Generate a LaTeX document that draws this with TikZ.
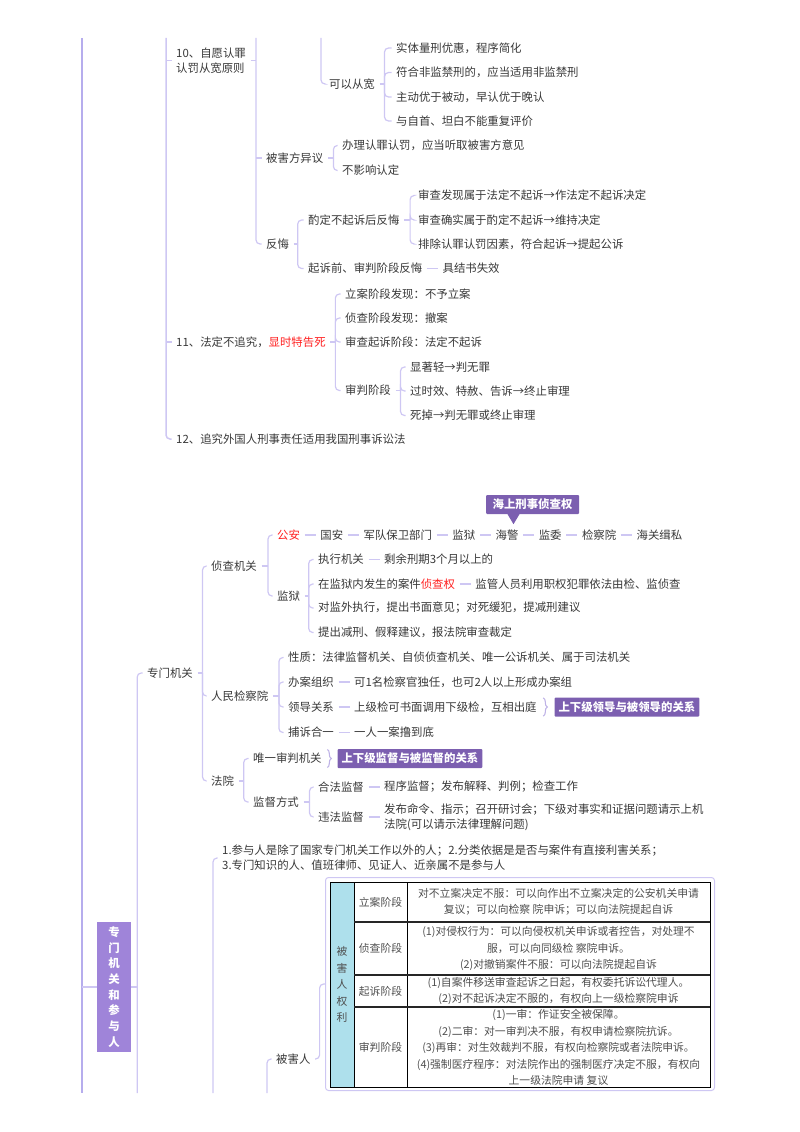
\documentclass[tikz,border=0pt]{standalone}
\usepackage{fontspec}
\setmainfont{Noto Sans CJK SC}
\usetikzlibrary{positioning,decorations.pathreplacing}

\definecolor{ink}{HTML}{383838}
\definecolor{lnk}{HTML}{CEC7F3}
\definecolor{trk}{HTML}{B6ADED}
\definecolor{tag}{HTML}{7C5FB0}
\definecolor{rootc}{HTML}{9F84D9}
\definecolor{hot}{HTML}{FF1F1F}
\definecolor{cell}{HTML}{AEE0EC}
\definecolor{cellink}{HTML}{4E4E4E}

\tikzset{
  txt/.style={anchor=west, inner xsep=4.5pt, inner ysep=1.5pt, text=ink,
    font=\fontsize{11.4}{15}\selectfont, align=left},
  leaf/.style={txt, xshift=-4.5pt},
  br/.style={draw=lnk, line width=1.2pt, rounded corners=4pt},
  tagbox/.style={fill=tag, text=white, font=\fontsize{11.4}{14}\selectfont\bfseries,
    inner xsep=4pt, inner ysep=0pt, minimum height=19pt, rounded corners=1pt},
  tbtxt/.style={text=cellink, font=\fontsize{10.8}{16.4}\selectfont, align=center, inner sep=0pt},
  sumbr/.style={draw=lnk!80!tag, line width=1.1pt, decorate, decoration={brace, amplitude=4pt}},
}

\begin{document}
\begin{tikzpicture}[x=1pt, y=-1pt]
\useasboundingbox (0,0) rectangle (800,1132);

% trunk
\coordinate (trkTop) at (82,38);
\coordinate (trkBot) at (82,1093);
\draw[trk, line width=2.4pt] (trkTop) -- (trkBot);

% ---------- 10 / 11 / 12
\node (n10) [leaf] at (176,60.5) {10、自愿认罪\\认罚从宽原则};
\node (kyck) [leaf] at (329,84) {可以从宽};
\node (k1) [leaf] at (396,48) {实体量刑优惠，程序简化};
\node (k2) [leaf] at (396,72.5) {符合非监禁刑的，应当适用非监禁刑};
\node (k3) [leaf] at (396,97) {主动优于被动，早认优于晚认};
\node (k4) [leaf] at (396,121) {与自首、坦白不能重复评价};
\node (bhf) [leaf] at (266,158) {被害方异议};
\node (b1) [leaf] at (342,145.5) {办理认罪认罚，应当听取被害方意见};
\node (b2) [leaf] at (342,170.5) {不影响认定};
\node (fh) [leaf] at (266,244) {反悔};
\node (zd) [leaf] at (308,220) {酌定不起诉后反悔};
\node (z1) [leaf] at (418,195.5) {审查发现属于法定不起诉→作法定不起诉决定};
\node (z2) [leaf] at (418,220) {审查确实属于酌定不起诉→维持决定};
\node (z3) [leaf] at (418,244) {排除认罪认罚因素，符合起诉→提起公诉};
\node (qs) [leaf] at (308,268.5) {起诉前、审判阶段反悔};
\node (jjs) [txt, right=11pt of qs] {具结书失效};
\node (n11) [leaf] at (176,342) {11、法定不追究，\textcolor{hot}{显时特告死}};
\node (s1) [leaf] at (345,294) {立案阶段发现：不予立案};
\node (s2) [leaf] at (345,318) {侦查阶段发现：撤案};
\node (s3) [leaf] at (345,342) {审查起诉阶段：法定不起诉};
\node (s4) [leaf] at (345,390.5) {审判阶段};
\node (t1) [leaf] at (410,367) {显著轻→判无罪};
\node (t2) [leaf] at (410,391) {过时效、特赦、告诉→终止审理};
\node (t3) [leaf] at (410,415.5) {死掉→判无罪或终止审理};
\node (n12) [leaf] at (176,439) {12、追究外国人刑事责任适用我国刑事诉讼法};

\coordinate (topA) at (166,38);
\coordinate (topB) at (256,38);
\coordinate (topC) at (321,38);
\coordinate (kyJ) at ([xshift=5pt]kyck.east);
\coordinate (bhfJ) at ([xshift=5.5pt]bhf.east);
\coordinate (fhJ) at ([xshift=4pt]fh.east);
\coordinate (zdJ) at ([xshift=6pt]zd.east);
\coordinate (n11J) at ([xshift=5pt]n11.east);
\coordinate (s4J) at ([xshift=5pt]s4.east);

\draw[br, line width=1.5pt] (topA) |- (n12.west);
\draw[br] (n10.west -| topA) -- (n10.west);
\draw[br] (n11.west -| topA) -- (n11.west);
\draw[br] (n10.east) -- (n10.east -| topB);
\draw[br] (topB) |- (fh.west);
\draw[br] (bhf.west -| topB) -- (bhf.west);
\draw[br] (topC) |- (kyck.west);

\draw[br] (kyck.east) -- (kyJ);
\draw[br] (kyJ) |- (k1.west);
\draw[br] (kyJ) |- (k2.west);
\draw[br] (kyJ) |- (k3.west);
\draw[br] (kyJ) |- (k4.west);
\draw[br] (bhf.east) -- (bhfJ);
\draw[br] (bhfJ) |- (b1.west);
\draw[br] (bhfJ) |- (b2.west);
\draw[br] (fh.east) -- (fhJ);
\draw[br] (fhJ) |- (zd.west);
\draw[br] (fhJ) |- (qs.west);
\draw[br] (zd.east) -- (zdJ);
\draw[br] (zdJ) |- (z1.west);
\draw[br] (zdJ) |- (z2.west);
\draw[br] (zdJ) |- (z3.west);
\draw[br] (qs.east) -- (jjs.west);
\draw[br] (n11.east) -- (n11J);
\draw[br] (n11J) |- (s1.west);
\draw[br] (n11J) |- (s2.west);
\draw[br] (n11J) |- (s3.west);
\draw[br] (n11J) |- (s4.west);
\draw[br] (s4.east) -- (s4J);
\draw[br] (s4J) |- (t1.west);
\draw[br] (s4J) |- (t2.west);
\draw[br] (s4J) |- (t3.west);

% ---------- 专门机关和参与人
\node (root) [fill=rootc, text=white, font=\fontsize{11.4}{15.7}\selectfont\bfseries,
  align=center, minimum width=34pt, minimum height=130pt, inner sep=0pt] at (114,987)
  {专\\门\\机\\关\\和\\参\\与\\人};
\node (zmjg) [leaf] at (147,673) {专门机关};
\node (zcjg) [leaf] at (211,566) {侦查机关};
\node (ga) [leaf, text=hot] at (277,535) {公安};
\node (ca1) [txt, right=11pt of ga] {国安};
\node (ca2) [txt, right=11pt of ca1] {军队保卫部门};
\node (ca3) [txt, right=11pt of ca2] {监狱};
\node (ca4) [txt, right=11pt of ca3] {海警};
\node (ca5) [txt, right=11pt of ca4] {监委};
\node (ca6) [txt, right=11pt of ca5] {检察院};
\node (ca7) [txt, right=11pt of ca6] {海关缉私};
\node (hs) [tagbox, minimum width=93pt] at (532.5,504.5) {海上刑事侦查权};
\fill[tag] ([xshift=-25pt]hs.south) -- ([xshift=-19pt,yshift=-10pt]hs.south)
  -- ([xshift=-13pt]hs.south) -- cycle;
\node (jy) [leaf] at (277,596) {监狱};
\node (j1) [leaf] at (318,559.5) {执行机关};
\node (j1b) [txt, right=11pt of j1] {剩余刑期3个月以上的};
\node (j2) [leaf] at (318,584) {在监狱内发生的案件\textcolor{hot}{侦查权}};
\node (j2b) [txt, right=11pt of j2] {监管人员利用职权犯罪依法由检、监侦查};
\node (j3) [leaf] at (318,608) {对监外执行，提出书面意见；对死缓犯，提减刑建议};
\node (j4) [leaf] at (318,632.5) {提出减刑、假释建议，报法院审查裁定};
\node (rmjcy) [leaf] at (211,696) {人民检察院};
\node (r1) [leaf] at (288,657.5) {性质：法律监督机关、自侦侦查机关、唯一公诉机关、属于司法机关};
\node (r2) [leaf] at (288,682) {办案组织};
\node (r2b) [txt, right=11pt of r2] {可1名检察官独任，也可2人以上形成办案组};
\node (r3) [leaf] at (288,707) {领导关系};
\node (r3b) [txt, right=11pt of r3] {上级检可书面调用下级检，互相出庭};
\node (ld) [tagbox, right=13pt of r3b] {上下级领导与被领导的关系};
\node (r4) [leaf] at (288,732.5) {捕诉合一};
\node (r4b) [txt, right=11pt of r4] {一人一案撸到底};
\node (fy) [leaf] at (211,781) {法院};
\node (wy) [leaf] at (253,758.5) {唯一审判机关};
\node (jd) [tagbox, right=11pt of wy] {上下级监督与被监督的关系};
\node (jdfs) [leaf] at (253,802) {监督方式};
\node (hf) [leaf] at (318,787) {合法监督};
\node (hfb) [txt, right=11pt of hf] {程序监督；发布解释、判例；检查工作};
\node (wf) [leaf] at (318,817) {违法监督};
\node (wfb) [txt, right=11pt of wf] {发布命令、指示；召开研讨会；下级对事实和证据问题请示上机\\法院(可以请示法律理解问题)};
\node (cyr) [leaf] at (222,858) {1.参与人是除了国家专门机关工作以外的人；2.分类依据是是否与案件有直接利害关系；\\3.专门知识的人、值班律师、见证人、近亲属不是参与人};
\node (bhr) [leaf] at (276,1059) {被害人};
\node (tbl) [draw=lnk, line width=1pt, rounded corners=3pt, minimum width=389pt,
  minimum height=213pt, anchor=north west, inner sep=0pt] at (325,877) {};

% table of 被害人权利
\fill[cell] (330,882) rectangle (354,1087);
\draw[black, line width=0.7pt] (330,882) rectangle (710,1087);
\draw[black, line width=0.8pt] (354,882) -- (354,1087);
\draw[black, line width=0.8pt] (407,882) -- (407,1087);
\draw[black!85, line width=1.3pt] (354,922) -- (710,922);
\draw[black!85, line width=1.3pt] (354,975) -- (710,975);
\draw[black!85, line width=1.3pt] (354,1007) -- (710,1007);
\node (tq) [tbtxt] at (342,984.5) {被\\害\\人\\权\\利};
\node (ta) [tbtxt] at (380.5,902) {立案阶段};
\node (tb) [tbtxt] at (380.5,948.5) {侦查阶段};
\node (tc) [tbtxt] at (380.5,991) {起诉阶段};
\node (td) [tbtxt] at (380.5,1047.5) {审判阶段};
\node (ua) [tbtxt] at (558.5,902) {对不立案决定不服：可以向作出不立案决定的公安机关申请\\复议；可以向检察 院申诉；可以向法院提起自诉};
\node (ub) [tbtxt] at (558.5,948.5) {(1)对侵权行为：可以向侵权机关申诉或者控告，对处理不\\服，可以向同级检 察院申诉。\\(2)对撤销案件不服：可以向法院提起自诉};
\node (uc) [tbtxt] at (558.5,991) {(1)自案件移送审查起诉之日起，有权委托诉讼代理人。\\(2)对不起诉决定不服的，有权向上一级检察院申诉};
\node (ud) [tbtxt] at (558.5,1047.5) {(1)一审：作证安全被保障。\\(2)二审：对一审判决不服，有权申请检察院抗诉。\\(3)再审：对生效裁判不服，有权向检察院或者法院申诉。\\(4)强制医疗程序：对法院作出的强制医疗决定不服，有权向\\上一级法院申请 复议};

\coordinate (rootJ) at ([xshift=6pt]root.east);
\coordinate (botA) at (rootJ |- trkBot);
\coordinate (botB) at (213,1093);
\coordinate (botC) at (267,1093);
\coordinate (zmJ) at ([xshift=5pt]zmjg.east);
\coordinate (zcJ) at ([xshift=6.5pt]zcjg.east);
\coordinate (jyJ) at ([xshift=4pt]jy.east);
\coordinate (rmJ) at ([xshift=6pt]rmjcy.east);
\coordinate (fyJ) at ([xshift=5pt]fy.east);
\coordinate (jdJ) at ([xshift=6pt]jdfs.east);
\coordinate (bhJ) at ([xshift=4.5pt]bhr.east);

\draw[br] (root.west -| trkTop) -- (root.west);
\draw[br] (root.east) -- (rootJ);
\draw[br] (botA) |- (zmjg.west);
\draw[br] (botB) |- (cyr.west);
\draw[br] (botC) |- (bhr.west);
\draw[br] (bhr.east) -- (bhJ) |- (tbl.west);

\draw[br] (zmjg.east) -- (zmJ);
\draw[br] (zmJ) |- (zcjg.west);
\draw[br] (zmJ) |- (rmjcy.west);
\draw[br] (zmJ) |- (fy.west);
\draw[br] (zcjg.east) -- (zcJ);
\draw[br] (zcJ) |- (ga.west);
\draw[br] (zcJ) |- (jy.west);
\draw[br] (ga.east) -- (ca1.west);
\draw[br] (ca1.east) -- (ca2.west);
\draw[br] (ca2.east) -- (ca3.west);
\draw[br] (ca3.east) -- (ca4.west);
\draw[br] (ca4.east) -- (ca5.west);
\draw[br] (ca5.east) -- (ca6.west);
\draw[br] (ca6.east) -- (ca7.west);
\draw[br] (jy.east) -- (jyJ);
\draw[br] (jyJ) |- (j1.west);
\draw[br] (jyJ) |- (j2.west);
\draw[br] (jyJ) |- (j3.west);
\draw[br] (jyJ) |- (j4.west);
\draw[br] (j1.east) -- (j1b.west);
\draw[br] (j2.east) -- (j2b.west);
\draw[br] (rmjcy.east) -- (rmJ);
\draw[br] (rmJ) |- (r1.west);
\draw[br] (rmJ) |- (r2.west);
\draw[br] (rmJ) |- (r3.west);
\draw[br] (rmJ) |- (r4.west);
\draw[br] (r2.east) -- (r2b.west);
\draw[br] (r3.east) -- (r3b.west);
\draw[br] (r4.east) -- (r4b.west);
\draw[sumbr] ([xshift=2pt,yshift=2pt]r3b.north east) -- ([xshift=2pt,yshift=-2pt]r3b.south east);
\draw[br] (fy.east) -- (fyJ);
\draw[br] (fyJ) |- (wy.west);
\draw[br] (fyJ) |- (jdfs.west);
\draw[sumbr] ([xshift=1pt,yshift=2pt]wy.north east) -- ([xshift=1pt,yshift=-2pt]wy.south east);
\draw[br] (jdfs.east) -- (jdJ);
\draw[br] (jdJ) |- (hf.west);
\draw[br] (jdJ) |- (wf.west);
\draw[br] (hf.east) -- (hfb.west);
\draw[br] (wf.east) -- (wfb.west);
\end{tikzpicture}
\end{document}
